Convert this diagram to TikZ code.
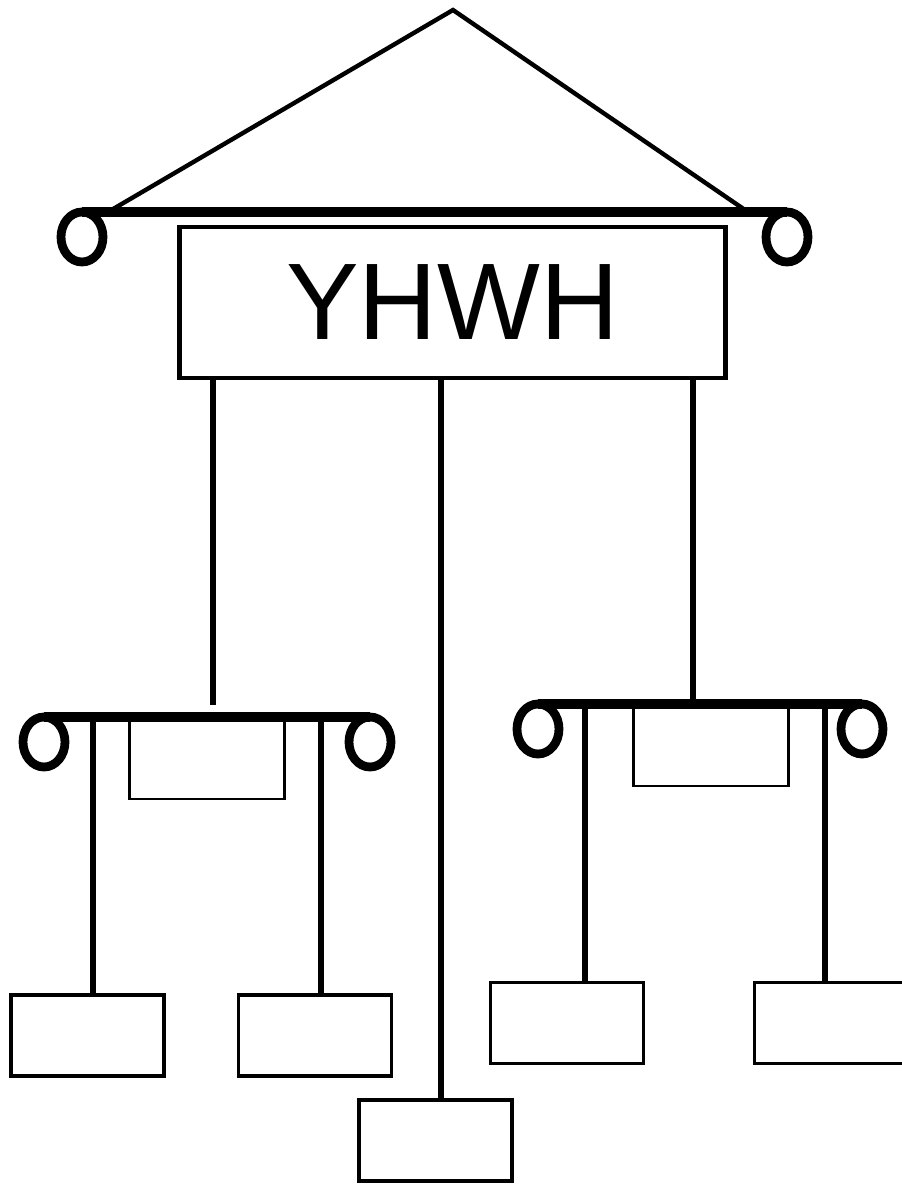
\documentclass[tikz,border=0pt]{standalone}
\usepackage{fontspec}
\setmainfont{Liberation Sans}
\usetikzlibrary{shapes.geometric}

\begin{document}
\begin{tikzpicture}[
    x=0.02cm, y=-0.02cm,
    ring/.style={ellipse, draw, line width=5pt, minimum width=0.84cm, minimum height=1.0cm, inner sep=0pt, outer sep=0pt},
    namebox/.style={rectangle, draw, line width=2.8pt, minimum width=10.94cm, minimum height=3.02cm, font=\fontsize{62}{72}\selectfont},
    slot/.style={rectangle, draw, line width=1.3pt, minimum width=3.1cm, minimum height=1.56cm},
    leaf/.style={rectangle, draw, line width=1.8pt, minimum width=3.06cm, minimum height=1.62cm},
    bar/.style={line width=5.6pt},
    stem/.style={line width=3.4pt},
    roof/.style={line width=2.5pt}
]
    \useasboundingbox (0,0) rectangle (902,1184);

    % top beam
    \node [namebox] (god) at (452.5,302.5) {YHWH};
    \node [ring] (ringTL) at (82,237) {};
    \node [ring] (ringTR) at (787,237) {};
    \coordinate (apex) at (453,10);
    \coordinate (eaveL) at (108,212);
    \coordinate (eaveR) at (748,212);
    \draw [roof] (eaveL) -- (apex) -- (eaveR);
    \draw [bar] (ringTL.north) -- (ringTR.north);

    % left beam
    \node [ring] (ringLL) at (44,742) {};
    \node [ring] (ringLR) at (370,742) {};
    \draw [bar] (ringLL.north) -- (ringLR.north);
    \node [slot] (slotL) at (207,760) {};

    % right beam
    \node [ring] (ringRL) at (538,729) {};
    \node [ring] (ringRR) at (862,729) {};
    \draw [bar] (ringRL.north) -- (ringRR.north);
    \node [slot] (slotR) at (711,747) {};

    % bottom boxes
    \node [leaf] (leafA) at (87.5,1035.5) {};
    \node [leaf] (leafB) at (315,1035.5) {};
    \node [leaf] (leafC) at (435.5,1140.5) {};
    \node [leaf] (leafD) at (567,1023) {};
    \node [leaf] (leafE) at (831,1023) {};

    % hangers
    \coordinate (hangL) at (213,705);
    \coordinate (hangR) at (693,705);
    \coordinate (midC) at (441,1102);
    \draw [stem] (god.south -| hangL) -- (hangL);
    \draw [stem] (god.south -| hangR) -- (hangR);
    \draw [stem] (god.south -| midC) -- (midC);

    \coordinate (pA) at (93,718);
    \coordinate (pB) at (321,718);
    \coordinate (pD) at (585,705);
    \coordinate (pE) at (825,705);
    \draw [stem] (pA) -- (pA |- leafA.north);
    \draw [stem] (pB) -- (pB |- leafB.north);
    \draw [stem] (pD) -- (pD |- leafD.north);
    \draw [stem] (pE) -- (pE |- leafE.north);
\end{tikzpicture}
\end{document}
